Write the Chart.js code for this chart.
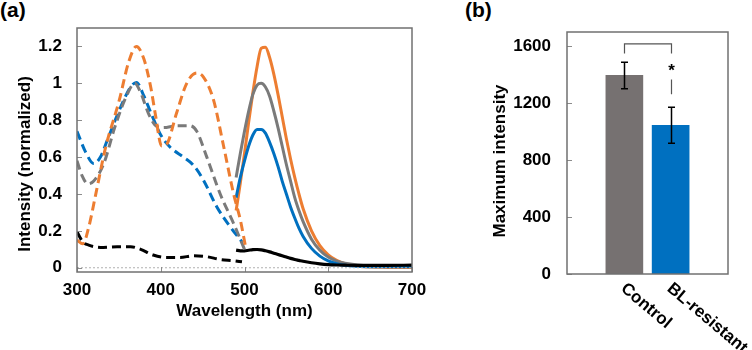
<!DOCTYPE html>
<html>
<head>
<meta charset="utf-8">
<script src="https://cdn.jsdelivr.net/npm/chart.js@4.4.0/dist/chart.umd.min.js"></script>
<style>
  body { margin: 0; background: #fff; width: 752px; height: 350px; overflow: hidden; position: relative;
         font-family: "Liberation Sans", Arial, sans-serif; }
  canvas { position: absolute; left: 0; top: 0; }
  .panel { position: absolute; font-weight: bold; font-size: 21px; color: #000; }
</style>
</head>
<body>
<div class="panel" style="left:0px;top:-2px">(a)</div>
<div class="panel" style="left:465px;top:-2px">(b)</div>
<canvas id="specChart" width="752" height="350"></canvas>
<canvas id="barChart" width="752" height="350"></canvas>
<script>
// ---- (a) spectra: wavelength (nm) and normalized intensity ----
const wlExOrange = [300, 307, 314, 322, 334, 350, 362, 371, 380, 388, 394, 401, 407, 419, 431, 443, 451, 463, 475, 487, 495, 501];
const exOrange   = [0.15, 0.13, 0.22, 0.39, 0.65, 0.90, 1.12, 1.20, 1.13, 0.98, 0.82, 0.66, 0.67, 0.84, 1.00, 1.056, 1.034, 0.91, 0.66, 0.40, 0.26, 0.12];

const wlExGrey = [300, 306, 313, 320, 332, 345, 358, 369, 376, 385, 393, 403, 419, 435, 443, 455, 471, 487, 500];
const exGrey   = [0.58, 0.50, 0.455, 0.47, 0.565, 0.76, 0.92, 1.00, 0.95, 0.84, 0.775, 0.76, 0.77, 0.77, 0.74, 0.60, 0.40, 0.24, 0.10];

const wlExBlue = [300, 310, 320, 328, 336, 352, 364, 371, 380, 390, 400, 411, 427, 439, 451, 467, 483, 497];
const exBlue   = [0.74, 0.63, 0.565, 0.60, 0.69, 0.87, 0.98, 1.005, 0.93, 0.82, 0.72, 0.655, 0.60, 0.556, 0.475, 0.33, 0.222, 0.14];

const wlExBlack = [300, 307, 314, 328, 348, 364, 376, 391, 407, 423, 439, 455, 471, 487, 497];
const exBlack   = [0.195, 0.14, 0.123, 0.11, 0.114, 0.114, 0.10, 0.069, 0.056, 0.056, 0.065, 0.06, 0.045, 0.038, 0.032];

const wlEm = [490, 495, 500, 505, 510, 515, 520, 525, 530, 535, 540, 545, 550, 555, 560, 565, 570, 580, 590, 600, 610, 620, 635, 650, 670, 700];
const emOrange = [0.31, 0.46, 0.62, 0.79, 0.95, 1.09, 1.19, 1.195, 1.14, 1.05, 0.94, 0.82, 0.70, 0.59, 0.49, 0.40, 0.32, 0.20, 0.12, 0.07, 0.04, 0.022, 0.01, 0.004, 0.002, 0.001];
const emGrey   = [0.49, 0.62, 0.74, 0.85, 0.94, 0.99, 1.0, 0.98, 0.93, 0.85, 0.76, 0.66, 0.56, 0.47, 0.38, 0.31, 0.25, 0.155, 0.095, 0.058, 0.036, 0.024, 0.015, 0.011, 0.01, 0.009];
const emBlue   = [0.38, 0.49, 0.58, 0.66, 0.72, 0.75, 0.75, 0.73, 0.68, 0.62, 0.55, 0.47, 0.40, 0.33, 0.27, 0.215, 0.17, 0.105, 0.063, 0.037, 0.022, 0.013, 0.008, 0.006, 0.005, 0.005];
const emBlack  = [0.096, 0.092, 0.092, 0.095, 0.098, 0.099, 0.097, 0.092, 0.086, 0.079, 0.072, 0.065, 0.058, 0.051, 0.045, 0.04, 0.035, 0.027, 0.021, 0.017, 0.015, 0.014, 0.013, 0.013, 0.013, 0.014];

const baselineX = [300, 700];
const baselineY = [0, 0];

const xTicksA = [300, 400, 500, 600, 700];
const yTicksA = [0, 0.2, 0.4, 0.6, 0.8, 1, 1.2];

// ---- (b) maximum intensity ----
const categories = ['Control', 'BL-resistant'];
const maxIntensity = [1395, 1045];
const errIntensity = [93, 127];
const yTicksB = [0, 400, 800, 1200, 1600];
const bracketLevels = [1549, 1616];
const starLevel = 1455;
const dashLevels = [1263, 1366];

const FONT = { family: '"Liberation Sans", Arial, sans-serif', size: 17, weight: 'bold' };
const FONT_CSS = 'bold 17px "Liberation Sans", Arial, sans-serif';
const ORANGE = '#ED7D31', GREY = '#767171', BLUE = '#0070C0';

const pts = (xs, ys) => xs.map((x, i) => ({ x, y: ys[i] }));

function line(xs, ys, color, dashed, width) {
  return {
    data: pts(xs, ys),
    borderColor: color,
    borderWidth: width || 3,
    borderDash: dashed ? [9, 5] : [],
    pointRadius: 0,
    fill: false,
    cubicInterpolationMode: 'monotone'
  };
}

// box around plot area + short inward tick marks + vertical axis title
const framePlugin = {
  id: 'frame',
  afterDatasetsDraw(chart, args, opts) {
    const { ctx, chartArea: a, scales } = chart;
    ctx.save();
    ctx.strokeStyle = '#8c8c8c';
    ctx.lineWidth = 1;
    scales.y.ticks.forEach(t => {
      const y = Math.round(scales.y.getPixelForValue(t.value)) + 0.5;
      ctx.beginPath(); ctx.moveTo(a.left, y); ctx.lineTo(a.left + 5, y); ctx.stroke();
    });
    if (opts.xTicks) {
      scales.x.ticks.forEach(t => {
        const x = Math.round(scales.x.getPixelForValue(t.value)) + 0.5;
        ctx.beginPath(); ctx.moveTo(x, a.bottom); ctx.lineTo(x, a.bottom - 5); ctx.stroke();
      });
    }
    ctx.strokeStyle = '#707070';
    ctx.lineWidth = 1.5;
    ctx.strokeRect(a.left, a.top, a.right - a.left, a.bottom - a.top);

    ctx.translate(opts.titleX, opts.titleY);
    ctx.rotate(-Math.PI / 2);
    ctx.fillStyle = '#000';
    ctx.font = FONT_CSS;
    ctx.textAlign = 'center';
    ctx.textBaseline = 'middle';
    ctx.fillText(opts.title, 0, 0);
    ctx.restore();
  }
};

new Chart(document.getElementById('specChart'), {
  type: 'line',
  data: {
    datasets: [
      Object.assign(line(baselineX, baselineY, '#b0b0b0', false, 1), { borderDash: [2, 2] }),
      line(wlExBlack, exBlack, '#000', true),
      line(wlExOrange, exOrange, ORANGE, true),
      line(wlExGrey, exGrey, '#7a7a7a', true),
      line(wlExBlue, exBlue, BLUE, true),
      line(wlEm, emBlack, '#000', false, 3.2),
      line(wlEm, emBlue, BLUE, false),
      line(wlEm, emGrey, '#7a7a7a', false),
      line(wlEm, emOrange, ORANGE, false)
    ]
  },
  options: {
    responsive: false,
    animation: false,
    devicePixelRatio: 1,
    layout: { padding: { left: 0, top: 28, right: 340, bottom: 0 } },
    plugins: {
      legend: { display: false }, tooltip: { enabled: false },
      frame: { xTicks: true, title: 'Intensity (normalized)', titleX: 25, titleY: 164 }
    },
    scales: {
      x: {
        type: 'linear', min: 300, max: 700,
        afterBuildTicks: s => { s.ticks = xTicksA.map(v => ({ value: v })); },
        afterFit: s => { s.height = 78; },
        grid: { display: false, drawTicks: false }, border: { display: false },
        ticks: { color: '#000', font: FONT, padding: 8, maxRotation: 0 },
        title: { display: true, text: 'Wavelength (nm)', color: '#000', font: FONT, padding: { top: 0, bottom: 28 } }
      },
      y: {
        min: -0.023, max: 1.3,
        afterBuildTicks: s => { s.ticks = yTicksA.map(v => ({ value: v })); },
        afterFit: s => { s.width = 77; },
        grid: { display: false, drawTicks: false }, border: { display: false },
        ticks: { color: '#000', font: FONT, padding: 15, callback: v => String(Math.round(v * 10) / 10) }
      }
    }
  },
  plugins: [framePlugin]
});

// error bars, significance bracket and rotated category labels for (b)
const barExtras = {
  id: 'barExtras',
  afterDatasetsDraw(chart) {
    const { ctx, chartArea: a, scales: { x, y } } = chart;
    const pos = categories.map((c, i) => x.getPixelForValue(i - (categories.length - 1) / 2));
    ctx.save();
    ctx.strokeStyle = '#000';
    ctx.lineWidth = 1.5;
    maxIntensity.forEach((v, i) => {
      const cx = Math.round(pos[i]) + 0.5;
      const top = y.getPixelForValue(v + errIntensity[i]);
      const bot = y.getPixelForValue(v - errIntensity[i]);
      ctx.beginPath();
      ctx.moveTo(cx, top); ctx.lineTo(cx, bot);
      ctx.moveTo(cx - 3.5, top); ctx.lineTo(cx + 3.5, top);
      ctx.moveTo(cx - 3.5, bot); ctx.lineTo(cx + 3.5, bot);
      ctx.stroke();
    });
    const x0 = Math.round(pos[0]) + 0.5, x1 = Math.round(pos[1]) + 0.5;
    ctx.strokeStyle = '#555';
    ctx.lineWidth = 1.2;
    ctx.beginPath();
    ctx.moveTo(x0, y.getPixelForValue(bracketLevels[0]));
    ctx.lineTo(x0, y.getPixelForValue(bracketLevels[1]));
    ctx.lineTo(x1, y.getPixelForValue(bracketLevels[1]));
    ctx.lineTo(x1, y.getPixelForValue(bracketLevels[0]));
    ctx.moveTo(x1, y.getPixelForValue(dashLevels[1]));
    ctx.lineTo(x1, y.getPixelForValue(dashLevels[0]));
    ctx.stroke();
    ctx.fillStyle = '#000';
    ctx.font = FONT_CSS;
    ctx.textAlign = 'center';
    ctx.textBaseline = 'alphabetic';
    ctx.fillText('*', x1, y.getPixelForValue(starLevel) + 9);
    categories.forEach((c, i) => {
      ctx.save();
      ctx.translate(pos[i] + 4, a.bottom + 6);
      ctx.rotate(40 * Math.PI / 180);
      ctx.textAlign = 'left';
      ctx.textBaseline = 'top';
      ctx.fillText(c, 0, 0);
      ctx.restore();
    });
    ctx.restore();
  }
};

new Chart(document.getElementById('barChart'), {
  type: 'bar',
  data: {
    datasets: [{
      data: maxIntensity.map((v, i) => ({ x: i - (categories.length - 1) / 2, y: v })),
      backgroundColor: [GREY, BLUE],
      barThickness: 37
    }]
  },
  options: {
    responsive: false,
    animation: false,
    devicePixelRatio: 1,
    layout: { padding: { left: 480, top: 32, right: 24, bottom: 0 } },
    plugins: {
      legend: { display: false }, tooltip: { enabled: false },
      frame: { xTicks: false, title: 'Maximum intensity', titleX: 500, titleY: 161 }
    },
    scales: {
      x: {
        type: 'linear', min: -1.74, max: 1.74, offset: false,
        afterBuildTicks: s => { s.ticks = categories.map((c, i) => ({ value: i - (categories.length - 1) / 2 })); },
        afterFit: s => { s.height = 76; },
        grid: { display: false, drawTicks: false }, border: { display: false },
        ticks: { display: false }
      },
      y: {
        min: 0, max: 1700,
        afterBuildTicks: s => { s.ticks = yTicksB.map(v => ({ value: v })); },
        afterFit: s => { s.width = 87; },
        grid: { display: false, drawTicks: false }, border: { display: false },
        ticks: { color: '#000', font: FONT, padding: 16, callback: v => String(v) }
      }
    }
  },
  plugins: [framePlugin, barExtras]
});
</script>
</body>
</html>
